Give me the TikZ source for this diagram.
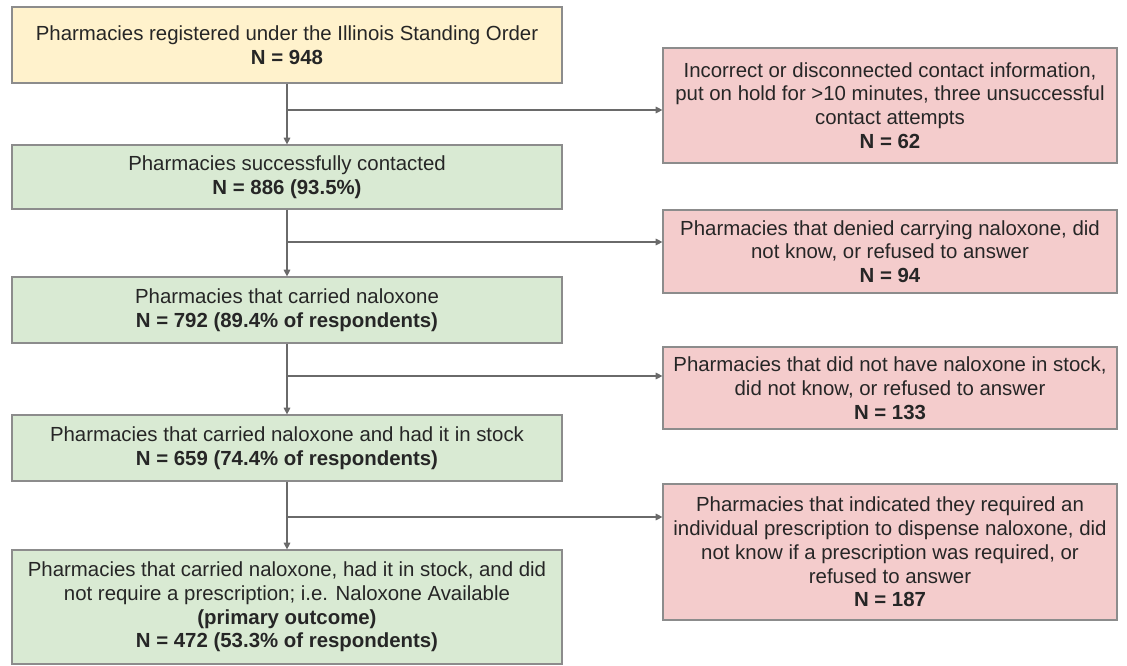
\documentclass[tikz,border=0pt]{standalone}
\usepackage{fontspec}
\setmainfont{Liberation Sans}
\usetikzlibrary{arrows.meta}
\usetikzlibrary{calc}

\definecolor{startfill}{HTML}{FFF2CC}
\definecolor{keepfill}{HTML}{D9EAD3}
\definecolor{dropfill}{HTML}{F4CCCC}
\definecolor{boxline}{HTML}{8C8C8C}
\definecolor{arrowline}{HTML}{6A6A6A}

\begin{document}
\begin{tikzpicture}[x=0.75pt, y=-0.75pt,
	flowbox/.style={draw=boxline, line width=0.9pt, align=center, inner sep=0pt,
		text=black!85, font=\fontsize{15.3}{17.8}\selectfont},
	leftbox/.style={flowbox, minimum width=550*0.75pt},
	rightbox/.style={flowbox, minimum width=454*0.75pt},
	flowarrow/.style={draw=arrowline, line width=0.8pt,
		-{Triangle[width=5pt, length=5pt]}}]

	% fixed canvas
	\useasboundingbox (0,0) rectangle (1127,666);

	% main column of boxes
	\node[leftbox, fill=startfill, minimum height=76*0.75pt] (start) at (287,45)
		{Pharmacies registered under the Illinois Standing Order\\\textbf{N = 948}};
	\node[leftbox, fill=keepfill, minimum height=64*0.75pt] (contacted) at (287,177)
		{Pharmacies successfully contacted\\\textbf{N = 886 (93.5\%)}};
	\node[leftbox, fill=keepfill, minimum height=66*0.75pt] (carried) at (287,310)
		{Pharmacies that carried naloxone\\\textbf{N = 792 (89.4\% of respondents)}};
	\node[leftbox, fill=keepfill, minimum height=66*0.75pt] (stocked) at (287,448)
		{Pharmacies that carried naloxone and had it in stock\\\textbf{N = 659 (74.4\% of respondents)}};
	\node[leftbox, fill=keepfill, minimum height=114*0.75pt] (available) at (287,607)
		{Pharmacies that carried naloxone, had it in stock, and did\\not require a prescription; i.e. Naloxone Available\\\textbf{(primary outcome)}\\\textbf{N = 472 (53.3\% of respondents)}};

	% excluded boxes on the right
	\node[rightbox, fill=dropfill, minimum height=115*0.75pt] (nocontact) at (890,105.5)
		{Incorrect or disconnected contact information,\\put on hold for >10 minutes, three unsuccessful\\contact attempts\\\textbf{N = 62}};
	\node[rightbox, fill=dropfill, minimum height=83*0.75pt] (nocarry) at (890,251.5)
		{Pharmacies that denied carrying naloxone, did\\not know, or refused to answer\\\textbf{N = 94}};
	\node[rightbox, fill=dropfill, minimum height=82*0.75pt] (nostock) at (890,388)
		{Pharmacies that did not have naloxone in stock,\\did not know, or refused to answer\\\textbf{N = 133}};
	\node[rightbox, fill=dropfill, minimum height=136*0.75pt] (needrx) at (890,552)
		{Pharmacies that indicated they required an\\individual prescription to dispense naloxone, did\\not know if a prescription was required, or\\refused to answer\\\textbf{N = 187}};

	% branch points on the main line
	\coordinate (split1) at (287,110);
	\coordinate (split2) at (287,242);
	\coordinate (split3) at (287,376);
	\coordinate (split4) at (287,517);

	% main flow
	\draw[flowarrow] (start) -- (contacted);
	\draw[flowarrow] (contacted) -- (carried);
	\draw[flowarrow] (carried) -- (stocked);
	\draw[flowarrow] (stocked) -- (available);

	% exclusions
	\draw[flowarrow] (split1) -- (split1 -| nocontact.west);
	\draw[flowarrow] (split2) -- (split2 -| nocarry.west);
	\draw[flowarrow] (split3) -- (split3 -| nostock.west);
	\draw[flowarrow] (split4) -- (split4 -| needrx.west);

\end{tikzpicture}
\end{document}
